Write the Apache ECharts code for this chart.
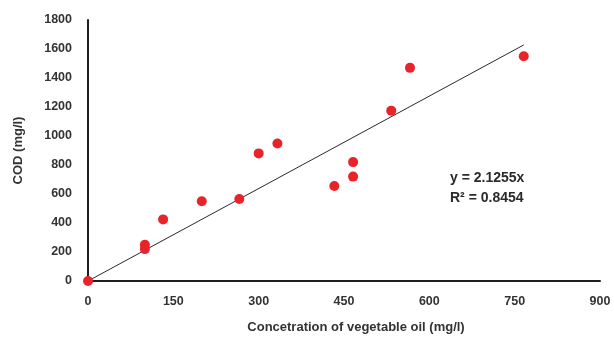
<!DOCTYPE html>
<html>
<head>
<meta charset="utf-8">
<script src="https://cdn.jsdelivr.net/npm/echarts@6/dist/echarts.min.js"></script>
<style>
  html, body { margin: 0; padding: 0; background: #fff; }
  #chart { width: 614px; height: 343px; }
</style>
</head>
<body>
<div id="chart"></div>
<script>
// Vegetable oil concentration (mg/l) against measured COD (mg/l)
const oilConc = [0, 100, 100, 132, 200, 266, 300, 333, 433, 466, 466, 533, 566, 766];
const codValues = [0, 250, 220, 425, 550, 565, 880, 948, 655, 820, 720, 1175, 1470, 1550];

// Linear fit through the origin
const slope = 2.1255;
const rSquared = 0.8454;
const trendX = [0, 766];

const xTicks = { min: 0, max: 900, interval: 150 };
const yTicks = { min: 0, max: 1800, interval: 200 };

const font = 'Liberation Sans';
const textColor = '#333333';

const points = oilConc.map((x, i) => [x, codValues[i]]);
const trend = trendX.map(x => [x, slope * x]);

const chart = echarts.init(document.getElementById('chart'), null, { renderer: 'canvas' });
chart.setOption({
  animation: false,
  grid: { left: 88, right: 14, top: 20, bottom: 62 },
  xAxis: {
    type: 'value',
    min: xTicks.min, max: xTicks.max, interval: xTicks.interval,
    splitLine: { show: false },
    axisTick: { show: false },
    axisLine: { show: true, onZero: false, lineStyle: { color: '#1e1e1e', width: 2 } },
    axisLabel: { margin: 14, color: textColor, fontFamily: font, fontWeight: 'bold', fontSize: 12.5,
      formatter: v => String(v) },
    name: 'Concetration of vegetable oil (mg/l)',
    nameLocation: 'middle',
    nameGap: 40,
    nameTextStyle: { color: textColor, fontFamily: font, fontWeight: 'bold', fontSize: 13, padding: [0, 0, 0, 24] }
  },
  yAxis: {
    type: 'value',
    min: yTicks.min, max: yTicks.max, interval: yTicks.interval,
    splitLine: { show: false },
    axisTick: { show: false },
    axisLine: { show: true, lineStyle: { color: '#1e1e1e', width: 2 } },
    axisLabel: { margin: 16, color: textColor, fontFamily: font, fontWeight: 'bold', fontSize: 12.5,
      formatter: v => String(v) },
    name: 'COD (mg/l)',
    nameLocation: 'middle',
    nameGap: 63,
    nameTextStyle: { color: textColor, fontFamily: font, fontWeight: 'bold', fontSize: 13 }
  },
  series: [
    {
      type: 'line',
      data: trend,
      symbol: 'none',
      lineStyle: { color: '#2a2a2a', width: 1 },
      z: 1
    },
    {
      type: 'scatter',
      data: points,
      symbolSize: 10,
      itemStyle: { color: '#e8242a', opacity: 1 },
      z: 3
    }
  ],
  graphic: [
    {
      type: 'text',
      left: 450, top: 168,
      style: {
        text: 'y = ' + slope + 'x\nR² = ' + rSquared,
        fill: '#2a2a2a',
        font: 'bold 14px ' + font,
        lineHeight: 20
      }
    }
  ]
});
</script>
</body>
</html>
